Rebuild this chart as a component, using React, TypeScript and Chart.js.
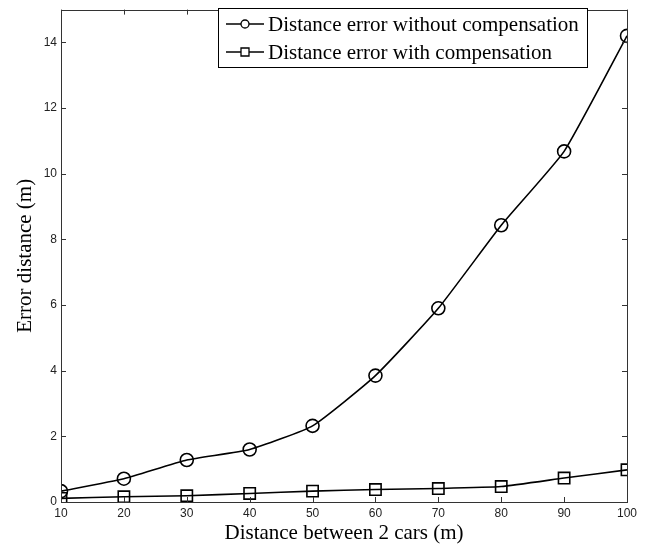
import React, { useEffect, useRef } from "react";
import { Chart, registerables } from "chart.js";

Chart.register(...registerables);

const distances = [10, 20, 30, 40, 50, 60, 70, 80, 90, 100];
const errorWithout = [0.33, 0.71, 1.28, 1.6, 2.32, 3.85, 5.9, 8.43, 10.68, 14.2];
const errorWith = [0.11, 0.16, 0.19, 0.26, 0.33, 0.38, 0.41, 0.47, 0.73, 0.98];
const seriesLabels = ["Distance error without compensation", "Distance error with compensation"];
const seriesMarkers = ["circle", "rect"];
const xTicks = [10, 20, 30, 40, 50, 60, 70, 80, 90, 100];
const yTicks = [0, 2, 4, 6, 8, 10, 12, 14];
const xTitle = "Distance between 2 cars (m)";
const yTitle = "Error distance (m)";

const boxPlugin = {
  id: "boxTicks",
  afterDatasetsDraw(chart: any) {
    const { ctx, chartArea: a, scales } = chart;
    ctx.save();
    ctx.strokeStyle = "#333";
    ctx.lineWidth = 1;
    ctx.strokeRect(Math.round(a.left) + 0.5, Math.round(a.top) + 0.5, Math.round(a.right - a.left), Math.round(a.bottom - a.top));
    const L = 5;
    ctx.beginPath();
    for (const v of xTicks) {
      const x = Math.round(scales.x.getPixelForValue(v)) + 0.5;
      ctx.moveTo(x, a.bottom); ctx.lineTo(x, a.bottom - L);
      ctx.moveTo(x, a.top); ctx.lineTo(x, a.top + L);
    }
    for (const v of yTicks) {
      const y = Math.round(scales.y.getPixelForValue(v)) + 0.5;
      ctx.moveTo(a.left, y); ctx.lineTo(a.left + L, y);
      ctx.moveTo(a.right, y); ctx.lineTo(a.right - L, y);
    }
    ctx.stroke();

    // legend
    const lx = 218.5, ly = 8.5, lw = 369, lh = 59;
    ctx.fillStyle = "#fff";
    ctx.fillRect(lx, ly, lw, lh);
    ctx.strokeStyle = "#000";
    ctx.strokeRect(lx, ly, lw, lh);
    ctx.font = "21px 'Liberation Serif', 'Times New Roman', serif";
    ctx.textBaseline = "middle";
    ctx.textAlign = "left";
    chart.data.datasets.forEach((ds: any, i: number) => {
      const y = 24 + i * 28;
      ctx.strokeStyle = "#000";
      ctx.lineWidth = 1.5;
      ctx.beginPath();
      ctx.moveTo(226, y); ctx.lineTo(264, y);
      ctx.stroke();
      ctx.lineWidth = 1.3;
      ctx.fillStyle = "#fff";
      ctx.beginPath();
      if (seriesMarkers[i] === "circle") {
        ctx.arc(245, y, 4, 0, Math.PI * 2);
      } else {
        ctx.rect(241, y - 4, 8, 8);
      }
      ctx.fill();
      ctx.stroke();
      ctx.fillStyle = "#000";
      ctx.fillText(ds.label, 268, y + 1);
    });
    ctx.restore();
  },
};

export default function App() {
  const ref = useRef<HTMLCanvasElement>(null);
  useEffect(() => {
    document.body.style.margin = "0";
    const common = {
      borderColor: "#000",
      backgroundColor: "rgba(255,255,255,0)",
      borderWidth: 1.6,
      pointBorderWidth: 1.6,
      pointBorderColor: "#000",
      pointBackgroundColor: "rgba(255,255,255,0)",
      tension: 0.15,
    };
    const chart = new Chart(ref.current!, {
      type: "line",
      data: {
        datasets: [
          {
            ...common,
            label: seriesLabels[0],
            data: distances.map((d, i) => ({ x: d, y: errorWithout[i] })),
            pointStyle: "circle",
            pointRadius: 6.5,
          },
          {
            ...common,
            label: seriesLabels[1],
            data: distances.map((d, i) => ({ x: d, y: errorWith[i] })),
            pointStyle: "rect",
            pointRadius: 8,
          },
        ],
      },
      options: {
        animation: false,
        responsive: false,
        devicePixelRatio: 1,
        layout: { padding: { top: 4, right: 27, left: 13, bottom: 0 } },
        plugins: { legend: { display: false }, tooltip: { enabled: false } },
        scales: {
          x: {
            type: "linear",
            min: 10,
            max: 100,
            afterBuildTicks: (s: any) => { s.ticks = xTicks.map((v) => ({ value: v })); },
            afterFit: (s: any) => { s.height = 44; },
            grid: { display: false, drawTicks: false },
            border: { display: false },
            ticks: { color: "#222", font: { family: "Arial, 'Liberation Sans', sans-serif", size: 12 }, padding: 4, maxRotation: 0 },
            title: { display: true, text: xTitle, color: "#000", font: { family: "'Liberation Serif', serif", size: 21 }, padding: { top: 0, bottom: 0 } },
          },
          y: {
            type: "linear",
            min: 0,
            max: 15,
            afterBuildTicks: (s: any) => { s.ticks = yTicks.map((v) => ({ value: v })); },
            afterFit: (s: any) => { s.width = 48; s.paddingTop = 0; s.paddingBottom = 0; },
            grid: { display: false, drawTicks: false },
            border: { display: false },
            ticks: { color: "#222", font: { family: "Arial, 'Liberation Sans', sans-serif", size: 12 }, padding: 4 },
            title: { display: true, text: yTitle, color: "#000", font: { family: "'Liberation Serif', serif", size: 21 }, padding: { top: 0, bottom: 0 } },
          },
        },
      },
      plugins: [boxPlugin],
    } as any);
    return () => chart.destroy();
  }, []);
  return <canvas ref={ref} width={654} height={546} style={{ display: "block" }} />;
}
